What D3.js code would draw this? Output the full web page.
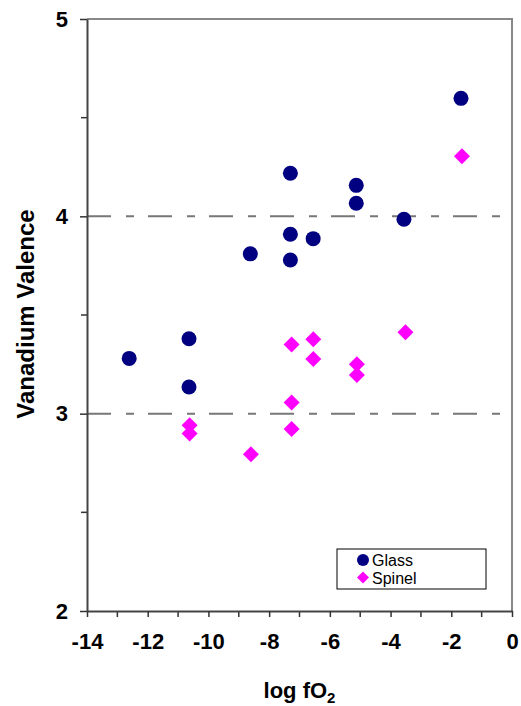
<!DOCTYPE html>
<html>
<head>
<meta charset="utf-8">
<script src="https://cdn.jsdelivr.net/npm/d3@7"></script>
<style>
  html, body { margin: 0; padding: 0; background: #fff; }
  svg { display: block; font-family: "Liberation Sans", Arial, sans-serif; }
</style>
</head>
<body>
<div id="chart"></div>
<script>
// data
const glassX  = [-12.61, -10.64, -10.64, -8.62, -7.30, -7.30, -7.30, -6.55, -5.13, -5.13, -3.56, -1.68];
const glassY  = [3.28, 3.38, 3.135, 3.81, 4.218, 3.909, 3.779, 3.887, 4.157, 4.066, 3.985, 4.598];
const spinelX = [-10.62, -10.62, -8.60, -7.26, -7.26, -7.26, -6.545, -6.545, -5.11, -5.11, -3.51, -1.65];
const spinelY = [2.941, 2.90, 2.794, 3.351, 3.057, 2.922, 3.377, 3.277, 3.25, 3.196, 3.412, 4.304];
const xTicks  = [-14, -12, -10, -8, -6, -4, -2, 0];
const yTicks  = [2, 3, 4, 5];
const refLines = [3, 4];

const W = 521, H = 706;
const margin = { top: 19, right: 9, bottom: 95, left: 87 };

const svg = d3.select("#chart").append("svg")
  .attr("width", W).attr("height", H);

const x = d3.scaleLinear().domain([-14, 0]).range([margin.left, W - margin.right]);
const y = d3.scaleLinear().domain([2, 5]).range([H - margin.bottom, margin.top]);

// frame (top + right, grey)
svg.append("path")
  .attr("d", `M${x(-14)},${y(5)}H${x(0)}V${y(2)}`)
  .attr("fill", "none").attr("stroke", "#888").attr("stroke-width", 2);

// dashed reference lines
svg.append("g").selectAll("line")
  .data(refLines).join("line")
    .attr("x1", x(-14)).attr("x2", x(0))
    .attr("y1", d => y(d)).attr("y2", d => y(d))
    .attr("stroke", "#777").attr("stroke-width", 2)
    .attr("stroke-dasharray", "24,15,8,14");

// minor ticks
svg.append("g").selectAll("line")
  .data(d3.range(-13, 0, 2)).join("line")
    .attr("x1", d => x(d)).attr("x2", d => x(d))
    .attr("y1", y(2)).attr("y2", y(2) + 6)
    .attr("stroke", "#333").attr("stroke-width", 1.5);
svg.append("g").selectAll("line")
  .data([2.5, 3.5, 4.5]).join("line")
    .attr("x1", x(-14) - 6).attr("x2", x(-14))
    .attr("y1", d => y(d)).attr("y2", d => y(d))
    .attr("stroke", "#333").attr("stroke-width", 1.5);

// axes
const fmt = d => String(d);
const gx = svg.append("g")
  .attr("transform", `translate(0,${y(2)})`)
  .call(d3.axisBottom(x).tickValues(xTicks).tickFormat(fmt).tickSize(6).tickSizeOuter(0).tickPadding(16));
const gy = svg.append("g")
  .attr("transform", `translate(${x(-14)},0)`)
  .call(d3.axisLeft(y).tickValues(yTicks).tickFormat(fmt).tickSize(7).tickSizeOuter(0).tickPadding(12));
[gx, gy].forEach(g => {
  g.select(".domain").attr("stroke", "#444").attr("stroke-width", 2);
  g.selectAll(".tick line").attr("stroke", "#333").attr("stroke-width", 1.5);
  g.selectAll("text")
    .attr("font-size", 22).attr("font-weight", "bold")
    .attr("font-family", "Liberation Sans, Arial, sans-serif").attr("fill", "#000");
});

// points
svg.append("g").selectAll("circle")
  .data(glassX.map((v, i) => [v, glassY[i]])).join("circle")
    .attr("cx", d => x(d[0])).attr("cy", d => y(d[1]))
    .attr("r", 7.5).attr("fill", "#000080");

const diamond = d3.symbol().type(d3.symbolSquare).size(128);
svg.append("g").selectAll("path")
  .data(spinelX.map((v, i) => [v, spinelY[i]])).join("path")
    .attr("d", diamond)
    .attr("transform", d => `translate(${x(d[0])},${y(d[1])}) rotate(45)`)
    .attr("fill", "#FF00FF");

// legend
const lg = svg.append("g");
lg.append("rect")
  .attr("x", 337).attr("y", 549).attr("width", 149).attr("height", 40)
  .attr("fill", "#fff").attr("stroke", "#000").attr("stroke-width", 1);
lg.append("circle").attr("cx", 363).attr("cy", 560).attr("r", 6).attr("fill", "#000080");
lg.append("path")
  .attr("d", d3.symbol().type(d3.symbolSquare).size(72))
  .attr("transform", "translate(363,577.5) rotate(45)")
  .attr("fill", "#FF00FF");
lg.append("text").attr("x", 372).attr("y", 565.5).attr("font-size", 16).text("Glass");
lg.append("text").attr("x", 372).attr("y", 583.5).attr("font-size", 16).text("Spinel");

// axis titles
const xt = svg.append("text")
  .attr("x", (x(-14) + x(0)) / 2).attr("y", 698)
  .attr("text-anchor", "middle")
  .attr("font-size", 22).attr("font-weight", "bold");
xt.append("tspan").text("log fO");
xt.append("tspan").attr("font-size", 15).attr("dy", 5).text("2");

svg.append("text")
  .attr("transform", `translate(34,314) rotate(-90)`)
  .attr("text-anchor", "middle")
  .attr("font-size", 24).attr("font-weight", "bold")
  .text("Vanadium Valence");
</script>
</body>
</html>
